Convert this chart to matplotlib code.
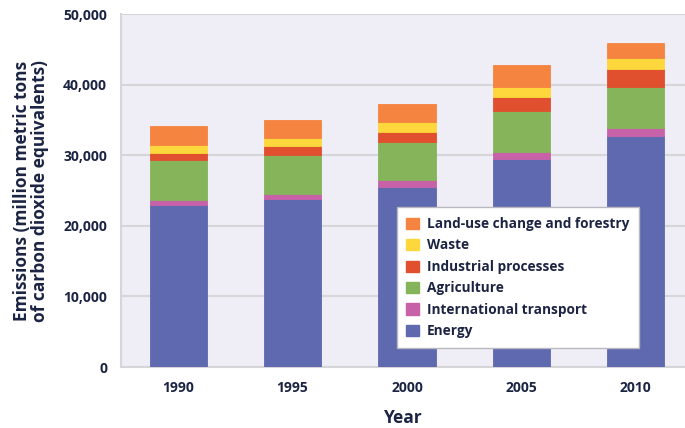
import numpy as np
import matplotlib
matplotlib.use("Agg")
import matplotlib.pyplot as plt
from matplotlib.patches import Patch

# values (million metric tons CO2 eq.)
years = ["1990", "1995", "2000", "2005", "2010"]
energy = [23000, 23800, 25540, 29460, 32720]
intl_transport = [650, 660, 950, 1040, 1090]
agriculture = [5650, 5530, 5340, 5760, 5890]
industrial = [1050, 1310, 1500, 2030, 2510]
waste = [1100, 1180, 1420, 1410, 1510]
land_use = [2650, 2510, 2500, 3080, 2130]

series = [
    ("Energy", energy, "#5f69b0"),
    ("International transport", intl_transport, "#c862a8"),
    ("Agriculture", agriculture, "#85b45a"),
    ("Industrial processes", industrial, "#e0502f"),
    ("Waste", waste, "#fdd73c"),
    ("Land-use change and forestry", land_use, "#f4843f"),
]

TXT = "#1c2443"
plt.rcParams["font.family"] = ["Open Sans", "DejaVu Sans"]

fig = plt.figure(figsize=(6.85, 4.28), dpi=100)
ax = fig.add_axes([0.1766, 0.1425, 0.8234, 0.8245])
ax.set_facecolor("#efedf6")

x = np.arange(len(years))
bottom = np.zeros(len(years))
for name, vals, col in series:
    ax.bar(x, vals, 0.5, bottom=bottom, color=col, edgecolor=col, lw=0.6, zorder=3)
    bottom += np.array(vals)

ax.set_xlim(-0.5, 4.43)
ax.set_ylim(0, 50000)
ax.set_yticks(range(0, 50001, 10000))
ax.set_yticklabels([f"{v:,}" for v in range(0, 50001, 10000)])
ax.set_xticks(x)
ax.set_xticklabels(years)
ax.grid(axis="y", color="#d6d6d9", lw=1.5, zorder=1)
for s in ["top", "right"]:
    ax.spines[s].set_visible(False)
for s in ["left", "bottom"]:
    ax.spines[s].set_color("#d6d6d9")
    ax.spines[s].set_linewidth(1.5)
ax.tick_params(length=0, colors=TXT, labelsize=10, pad=10)
for lab in ax.get_xticklabels() + ax.get_yticklabels():
    lab.set_fontweight("bold")

ax.set_xlabel("Year", fontsize=12.5, fontweight="bold", color=TXT, labelpad=10)
ax.set_ylabel("Emissions (million metric tons\nof carbon dioxide equivalents)",
              fontsize=12.5, fontweight="bold", color=TXT, labelpad=10, linespacing=1.0)

handles = [Patch(facecolor=c, edgecolor=c, label=n) for n, _, c in reversed(series)]
leg = ax.legend(handles=handles, loc="lower right", bbox_to_anchor=(0.93, 0.035),
                frameon=True, fancybox=False, framealpha=1.0, handlelength=0.9,
                handleheight=0.9, handletextpad=0.6, labelspacing=0.55,
                borderpad=0.7, prop={"weight": "bold", "size": 9.8})
leg.get_frame().set_edgecolor("#b8b8c0")
leg.get_frame().set_linewidth(1.0)
leg.get_frame().set_facecolor("white")
for t in leg.get_texts():
    t.set_color(TXT)
leg.set_zorder(5)

fig.savefig("out.png", dpi=100)
